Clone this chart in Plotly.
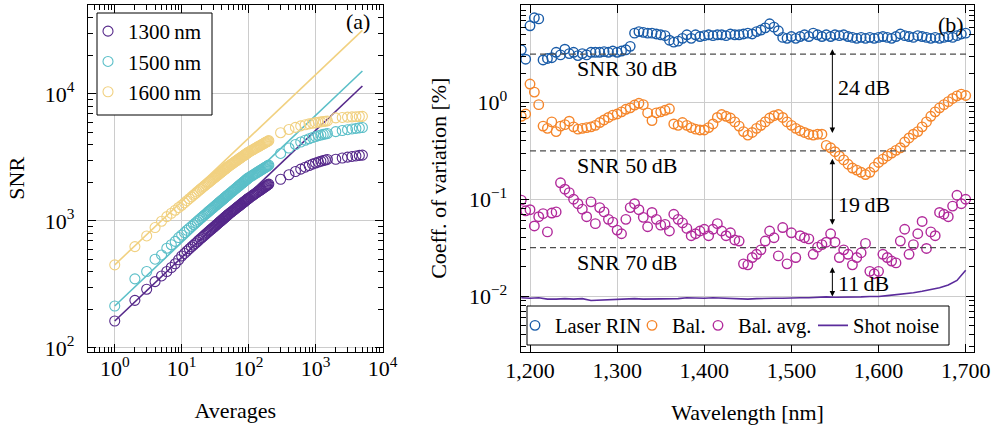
import math
import plotly.graph_objects as go

FONT = "Liberation Serif"

# ---------------- Panel (a): SNR vs averages ----------------
averages = [1, 2, 3, 4, 5, 6, 7, 8, 9, 10, 11, 12, 13, 14, 15, 16, 17, 18, 19, 20,
            21, 22, 23, 24, 25, 26, 27, 28, 29, 30, 31, 32, 33, 34, 35, 36, 37, 38, 39, 40,
            41, 42, 43, 44, 45, 46, 47, 48, 49,
            50, 52, 54, 56, 58, 60, 62, 64, 66, 68, 70, 72, 74, 76, 78, 80, 82, 84, 86, 88,
            90, 92, 94, 96, 98,
            100, 105, 110, 115, 120, 125, 130, 135, 140, 145, 150, 155, 160, 165, 170, 175,
            180, 185, 190, 195, 200,
            300, 400, 500, 600, 700, 800, 900, 1000, 1100, 1200, 1300, 1400, 1500,
            2000, 2500, 3000, 3500, 4000, 4500, 5000]

snr_1300 = [163, 237, 290, 333, 369, 400, 430, 460, 495, 530, 555, 580, 603, 625, 645, 665, 685, 705, 722, 740,
            757, 773, 789, 805, 820, 835, 850, 864, 878, 892, 905, 919, 932, 945, 957, 970, 982, 994, 1006, 1018,
            1030, 1041, 1052, 1064, 1075, 1085, 1096, 1107, 1117,
            1128, 1147, 1165, 1183, 1201, 1218, 1235, 1251, 1268, 1283, 1299, 1315, 1330, 1345, 1360, 1374,
            1388, 1403, 1417, 1430, 1444, 1457, 1470, 1484, 1496,
            1509, 1536, 1563, 1589, 1614, 1639, 1663, 1686, 1709, 1731, 1753, 1775, 1796, 1816, 1836, 1856,
            1876, 1895, 1913, 1932, 1950,
            2130, 2310, 2450, 2560, 2650, 2730, 2800, 2860, 2910, 2950, 2990, 3020, 3050,
            3060, 3130, 3180, 3220, 3250, 3280, 3300]

snr_1500 = [214, 350, 400, 500, 540, 610, 650, 690, 740, 775, 810, 844, 876, 906, 935, 964, 991, 1017, 1043, 1068,
            1092, 1115, 1137, 1159, 1181, 1202, 1222, 1243, 1262, 1282, 1301, 1320, 1338, 1356, 1374, 1391, 1409,
            1426, 1442, 1459, 1475, 1491, 1507, 1523, 1538, 1554, 1569, 1584, 1598,
            1613, 1641, 1669, 1695, 1722, 1748, 1773, 1798, 1823, 1847, 1870, 1894, 1917, 1939, 1962, 1984,
            2005, 2027, 2048, 2069, 2089, 2109, 2129, 2149, 2169,
            2188, 2224, 2258, 2291, 2324, 2355, 2386, 2416, 2445, 2473, 2501, 2528, 2555, 2581, 2607, 2632,
            2656, 2680, 2704, 2727, 2750,
            3400, 3750, 4000, 4180, 4320, 4440, 4540, 4620, 4690, 4750, 4800, 4840, 4880,
            5050, 5150, 5230, 5300, 5350, 5400, 5440]

snr_1600 = [451, 628, 762, 887, 995, 1081, 1150, 1215, 1275, 1330, 1388, 1444, 1497, 1548, 1596, 1643, 1689, 1733, 1775, 1817,
            1856, 1893, 1930, 1965, 2000, 2034, 2067, 2100, 2132, 2163, 2194, 2224, 2254, 2283, 2311, 2340, 2367,
            2395, 2421, 2448, 2474, 2500, 2525, 2550, 2575, 2600, 2624, 2648, 2671,
            2694, 2733, 2772, 2809, 2846, 2882, 2917, 2952, 2985, 3019, 3051, 3083, 3115, 3145, 3176, 3206,
            3235, 3264, 3293, 3321, 3349, 3376, 3403, 3429, 3456,
            3482, 3533, 3583, 3631, 3678, 3723, 3767, 3810, 3852, 3893, 3932, 3971, 4009, 4046, 4083, 4119,
            4153, 4188, 4221, 4254, 4287,
            4950, 5250, 5450, 5600, 5720, 5810, 5880, 5940, 5990, 6030, 6070, 6100, 6130,
            6480, 6530, 6570, 6600, 6620, 6640, 6660]

fit_averages = [1, 5000]
fit_1300 = [163, 11550]
fit_1500 = [214, 15150]
fit_1600 = [451, 31600]

labels_a = ["1300\u2009nm", "1500\u2009nm", "1600\u2009nm"]
colors_a = ["#55288a", "#5bbfc8", "#f1d181"]

# ---------------- Panel (b): coefficient of variation ----------------
wavelength = list(range(1190, 1701, 5))

laser_rin = [3.5, 2.8, 6.2, 7.5, 7.3, 2.75, 2.85, 2.9, 3.3, 3.1,
             3.55, 3.2, 3.3, 3.05, 3.2, 3.1, 3.3, 3.3, 3.3, 3.35,
             3.3, 3.4, 3.3, 3.4, 3.5, 3.8, 5.2, 5.4, 5.3, 5.2,
             5.2, 5.1, 5.0, 4.9, 4.4, 4.2, 4.3, 4.6, 5.0, 4.6,
             5.0, 4.8, 4.9, 5.0, 4.9, 5.0, 5.0, 4.9, 5.1, 5.0,
             5.0, 5.1, 5.2, 5.1, 5.4, 5.6, 5.9, 6.5, 6.0, 5.5,
             4.7, 4.6, 4.8, 4.6, 4.8, 5.0, 4.8, 5.2, 5.0, 4.8,
             5.0, 4.8, 5.0, 4.9, 5.0, 4.8, 4.7, 4.6, 4.7, 4.6,
             4.7, 4.6, 4.7, 4.8, 4.7, 4.6, 4.8, 5.1, 4.9, 4.8,
             4.7, 4.9, 4.8, 4.7, 4.6, 4.7, 4.6, 4.7, 4.8, 4.7,
             4.9, 5.1, 5.2]

balanced = [0.72, 0.76, 1.55, 1.28, 0.95, 0.57, 0.54, 0.63, 0.50, 0.57,
            0.59, 0.64, 0.56, 0.53, 0.54, 0.55, 0.56, 0.58, 0.62, 0.66,
            0.70, 0.74, 0.76, 0.80, 0.85, 0.88, 0.94, 0.98, 0.95, 0.78,
            0.65, 0.78, 0.80, 0.83, 0.86, 0.60, 0.58, 0.62, 0.58, 0.55,
            0.53, 0.52, 0.52, 0.55, 0.60, 0.70, 0.75, 0.72, 0.69, 0.63,
            0.57, 0.50, 0.46, 0.49, 0.54, 0.58, 0.63, 0.69, 0.73, 0.75,
            0.70, 0.63, 0.58, 0.54, 0.51, 0.49, 0.47, 0.46, 0.47, 0.47,
            0.36, 0.34, 0.31, 0.28, 0.255, 0.23, 0.21, 0.20, 0.19, 0.18,
            0.19, 0.215, 0.24, 0.26, 0.28, 0.30, 0.32, 0.34, 0.39, 0.43,
            0.47, 0.50, 0.56, 0.63, 0.72, 0.80, 0.88, 0.95, 1.02, 1.10,
            1.17, 1.22, 1.18]

balanced_avg = [0.098, 0.076, 0.078, 0.053, 0.066, 0.071, 0.046, 0.072, 0.074, 0.148,
                0.127, 0.117, 0.100, 0.090, 0.079, 0.066, 0.094, 0.056, 0.082, 0.074,
                0.062, 0.058, 0.048, 0.044, 0.062, 0.082, 0.090, 0.078, 0.065, 0.052,
                0.073, 0.062, 0.054, 0.055, 0.047, 0.070, 0.062, 0.057, 0.050, 0.042,
                0.044, 0.047, 0.049, 0.042, 0.049, 0.056, 0.047, 0.042, 0.045, 0.038,
                0.037, 0.0215, 0.021, 0.025, 0.027, 0.030, 0.037, 0.047, 0.040, 0.026,
                0.051, 0.0215, 0.045, 0.025, 0.042, 0.040, 0.039, 0.027, 0.032, 0.034,
                0.036, 0.044, 0.036, 0.025, 0.030, 0.027, 0.021, 0.025, 0.028, 0.035,
                0.018, 0.017, 0.018, 0.027, 0.025, 0.023, 0.022, 0.037, 0.049, 0.027,
                0.034, 0.044, 0.059, 0.031, 0.046, 0.042, 0.073, 0.070, 0.066, 0.085,
                0.11, 0.09, 0.10]

shot_wavelength = list(range(1190, 1701, 10))
shot_noise = [0.0096, 0.0095, 0.0096, 0.0093, 0.0093, 0.0094, 0.0093, 0.0094, 0.0090, 0.0091,
              0.0091, 0.0092, 0.0093, 0.0094, 0.0093, 0.0093, 0.0093, 0.0094, 0.0094, 0.0096,
              0.0095, 0.0095, 0.0096, 0.0095, 0.0094, 0.0094, 0.0093, 0.0094, 0.0095, 0.0095,
              0.0095, 0.0096, 0.0096, 0.0096, 0.0097, 0.0098, 0.0097, 0.0097, 0.0098, 0.0098,
              0.0099, 0.0099, 0.0101, 0.0103, 0.0105, 0.0108, 0.0112, 0.0116, 0.0122, 0.0130,
              0.0145, 0.0185]

snr_levels_db = [30, 50, 70]
snr_line_span = [1200, 1705]

# double arrows between levels (CV in %)
arrow_wl = 1547
arrow_from = [3.67, 0.271, 0.0206]
arrow_to = [0.483, 0.0545, 0.0099]
arrow_labels = ["24\u2009dB", "19\u2009dB", "11\u2009dB"]
arrow_label_cv = [1.43, 0.089, 0.0134]

colors_b = {"rin": "#1a5ca8", "bal": "#f5862b", "avg": "#b12a9b", "shot": "#5b2c9c"}

SIZE = 22
txtfont = dict(family=FONT, size=SIZE, color="black")
legfont = dict(family=FONT, size=21, color="black")
legfont_b = dict(family=FONT, size=20.5, color="black")

fig = go.Figure()

for lab, col, snr, fit in zip(labels_a, colors_a, [snr_1300, snr_1500, snr_1600],
                              [fit_1300, fit_1500, fit_1600]):
    fig.add_trace(go.Scatter(x=averages, y=snr, mode="markers", name=lab,
                             marker=dict(symbol="circle-open", size=10, color=col,
                                         line=dict(width=1.1, color=col)),
                             xaxis="x", yaxis="y", legend="legend"))
    fig.add_trace(go.Scatter(x=fit_averages, y=fit, mode="lines", showlegend=False,
                             line=dict(color=col, width=1.6), xaxis="x", yaxis="y"))


def open_marker(col):
    return dict(symbol="circle-open", size=9.5, color=col, line=dict(width=1.4, color=col))


fig.add_trace(go.Scatter(x=wavelength, y=laser_rin, mode="markers", name="Laser RIN",
                         marker=open_marker(colors_b["rin"]),
                         xaxis="x2", yaxis="y2", legend="legend2"))
fig.add_trace(go.Scatter(x=wavelength, y=balanced, mode="markers", name="Bal.",
                         marker=open_marker(colors_b["bal"]),
                         xaxis="x2", yaxis="y2", legend="legend3"))
fig.add_trace(go.Scatter(x=wavelength, y=balanced_avg, mode="markers", name="Bal. avg.",
                         marker=open_marker(colors_b["avg"]),
                         xaxis="x2", yaxis="y2", legend="legend4"))
fig.add_trace(go.Scatter(x=shot_wavelength, y=shot_noise, mode="lines", name="Shot noise",
                         line=dict(color=colors_b["shot"], width=1.6),
                         xaxis="x2", yaxis="y2", legend="legend5"))

for db in snr_levels_db:
    cv = 100 * 10 ** (-db / 20)
    fig.add_trace(go.Scatter(x=snr_line_span, y=[cv, cv], mode="lines", showlegend=False,
                             line=dict(color="#4d4d4d", width=1.1, dash="6px,4px"),
                             xaxis="x2", yaxis="y2", hoverinfo="skip"))

annotations = []
for db in snr_levels_db:
    cv_log = -db / 20 + 2
    annotations.append(dict(x=1311, y=cv_log - 0.15, xref="x2", yref="y2",
                            text="SNR %d\u2009dB" % db, showarrow=False, font=txtfont))
for f, t, lab, lc in zip(arrow_from, arrow_to, arrow_labels, arrow_label_cv):
    annotations.append(dict(x=arrow_wl, y=math.log10(t), ax=arrow_wl, ay=math.log10(f),
                            xref="x2", yref="y2", axref="x2", ayref="y2", text="",
                            showarrow=True, arrowhead=2, arrowside="end+start",
                            arrowsize=1.1, arrowwidth=1, arrowcolor="black",
                            standoff=0, startstandoff=0))
    annotations.append(dict(x=arrow_wl + 4, y=math.log10(lc), xref="x2", yref="y2",
                            text=lab, showarrow=False, xanchor="left", font=txtfont))
annotations.append(dict(x=0.916, y=0.951, xref="x domain", yref="y domain", text="(a)",
                        xanchor="center", yanchor="middle", showarrow=False, font=txtfont))
annotations.append(dict(x=0.948, y=0.944, xref="x2 domain", yref="y2 domain", text="(b)",
                        xanchor="center", yanchor="middle", showarrow=False, font=txtfont))

# legend frames (boxes); entries are placed by separate transparent legends
shapes = [
    dict(type="rect", xref="paper", yref="paper", x0=97 / 995, x1=212 / 995,
         y0=1 - 115 / 425, y1=1 - 13 / 425, line=dict(color="black", width=1),
         fillcolor="white", layer="above"),
    dict(type="rect", xref="paper", yref="paper", x0=527 / 995, x1=949 / 995,
         y0=1 - 345 / 425, y1=1 - 306 / 425, line=dict(color="black", width=1),
         fillcolor="white", layer="above"),
]

base = dict(showline=True, linecolor="black", linewidth=1, mirror="allticks",
            ticks="inside", ticklen=8, tickwidth=1, tickcolor="black",
            showgrid=True, gridcolor="#cccccc", gridwidth=1, zeroline=False,
            tickfont=txtfont, automargin=False)


def minor_vals(lo, hi):
    vals = []
    for k in range(lo, hi + 1):
        for m in range(2, 10):
            vals.append(m * 10 ** k)
    return vals


def minor(vals):
    return dict(ticks="inside", ticklen=5, tickwidth=1, tickcolor="black",
                showgrid=False, tickmode="array", tickvals=vals)


def sup(p):
    return "10<sup>%s</sup>" % (str(p) if p >= 0 else "\u2212" + str(-p))


def item_legend(marker_px, center_y_px):
    return dict(x=(marker_px - 21) / 995, y=1 - center_y_px / 425,
                xanchor="left", yanchor="middle", bgcolor="rgba(0,0,0,0)",
                borderwidth=0, font=legfont_b, itemwidth=30)


fig.update_layout(
    width=995, height=425, margin=dict(l=0, r=0, t=0, b=0, autoexpand=False),
    paper_bgcolor="white", plot_bgcolor="white",
    font=txtfont,
    xaxis=dict(base, type="log", range=[-0.40, 4.002], domain=[0.0884, 0.3846], anchor="y",
               tickmode="array", tickvals=[1, 10, 100, 1000, 10000],
               ticktext=[sup(p) for p in range(0, 5)], ticklabelstandoff=-3,
               minor=minor([0.4, 0.5, 0.6, 0.7, 0.8, 0.9] + minor_vals(0, 3)),
               title=dict(text="Averages", font=txtfont, standoff=22)),
    yaxis=dict(base, type="log", range=[1.972, 4.70], domain=[0.1729, 0.9882], anchor="x",
               tickmode="array", tickvals=[100, 1000, 10000],
               ticktext=[sup(p) for p in range(2, 5)], ticklabelstandoff=8,
               minor=minor(minor_vals(2, 3) + [20000, 30000, 40000, 50000]),
               title=dict(text="SNR", font=txtfont, standoff=14)),
    xaxis2=dict(base, range=[1189.3, 1710], domain=[0.5233, 0.9793], anchor="y2",
                tickmode="linear", tick0=1200, dtick=100, separatethousands=True,
                ticklabelstandoff=-1,
                title=dict(text="Wavelength [nm]", font=txtfont, standoff=22)),
    yaxis2=dict(base, type="log", range=[-2.575, 1.01], domain=[0.1725, 0.9889], anchor="x2",
                tickmode="array", tickvals=[0.01, 0.1, 1, 10],
                ticktext=[sup(p) for p in range(-2, 2)], ticklabelstandoff=8,
                minor=minor([0.003, 0.004, 0.005, 0.006, 0.007, 0.008, 0.009] + minor_vals(-2, 0)),
                title=dict(text="Coeff. of variation [%]", font=txtfont, standoff=16)),
    legend=dict(x=88 / 995, y=1 - 11 / 425, xanchor="left", yanchor="top",
                bgcolor="rgba(0,0,0,0)", borderwidth=0,
                font=legfont, itemwidth=30, tracegroupgap=0),
    legend2=item_legend(536, 325.5),
    legend3=item_legend(653, 325.5),
    legend4=item_legend(719, 325.5),
    legend5=item_legend(834, 325.5),
    shapes=shapes,
    annotations=annotations,
    showlegend=True,
)

fig.write_html("out.html")
